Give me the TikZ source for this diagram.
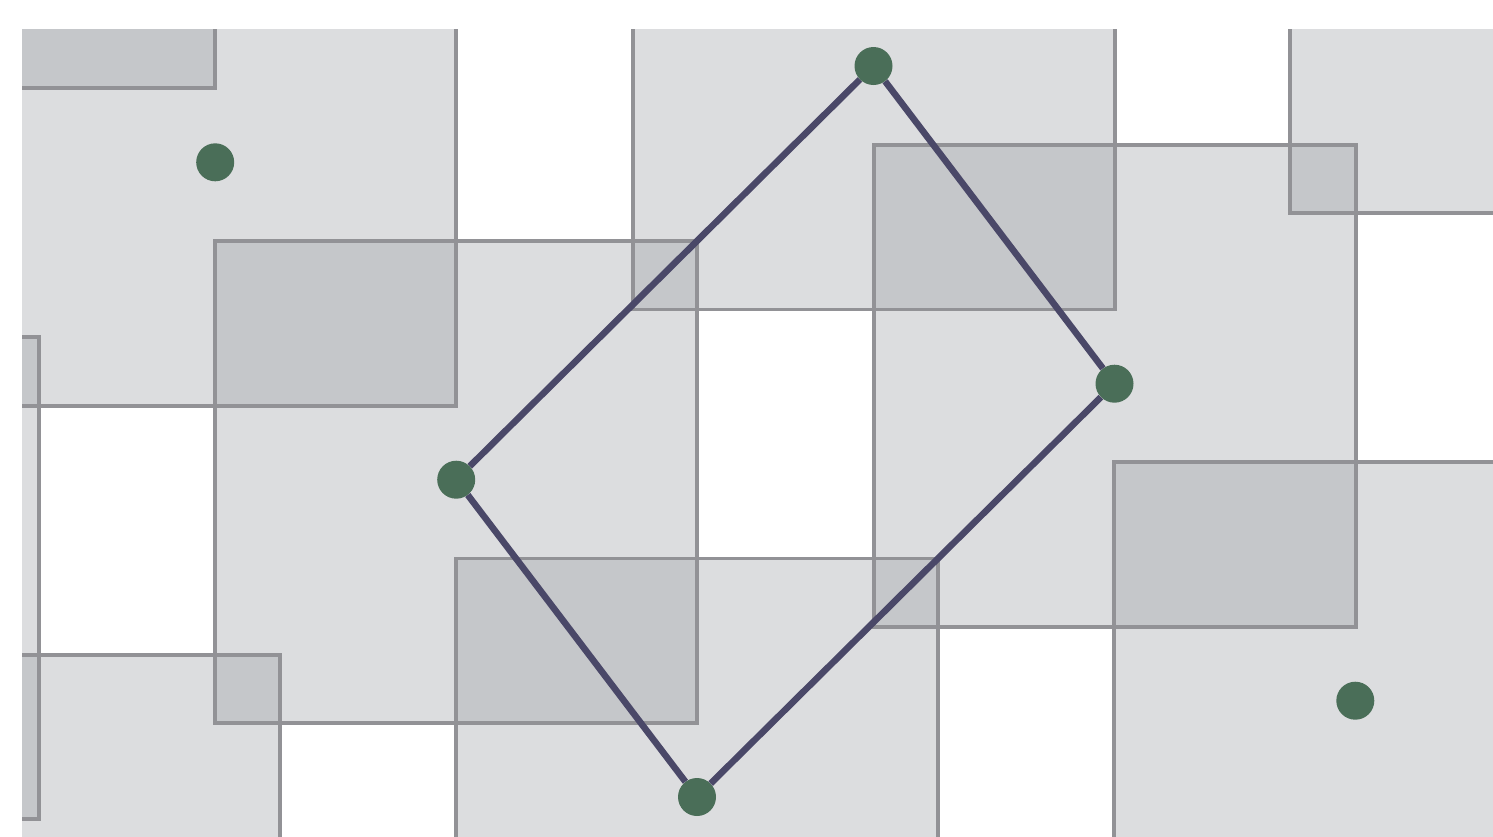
\documentclass[tikz,border=0pt]{standalone}
\definecolor{rectfill}{RGB}{153,155,161}
\definecolor{rectline}{RGB}{146,146,150}
\definecolor{quadline}{RGB}{74,72,104}
\definecolor{dotgreen}{RGB}{74,110,88}
\tikzset{
  tilefill/.style={fill=rectfill, fill opacity=0.34},
  tileline/.style={draw=rectline, line width=3.8pt},
  quadedge/.style={draw=quadline, line width=6.5pt},
  vertexdot/.style={circle, fill=dotgreen, minimum size=38pt, inner sep=0pt}
}
\begin{document}
\begin{tikzpicture}[x=1pt,y=-1pt]
\useasboundingbox (0,0) rectangle (1493,836);
\begin{scope}
\clip (22,29) rectangle (1493,836);
\foreach \cx/\cy in {-25.8/-152.9, 215.2/164.8, 456.2/482.2, 697/799.5, 873.7/68.4, 1114.7/386.1, 1355.3/703.2, -202.3/578.3, 38.7/896, 1531.2/-27.7}
  \path[tilefill] ({\cx-241},{\cy-241}) rectangle ({\cx+241},{\cy+241});
\foreach \cx/\cy in {-25.8/-152.9, 215.2/164.8, 456.2/482.2, 697/799.5, 873.7/68.4, 1114.7/386.1, 1355.3/703.2, -202.3/578.3, 38.7/896, 1531.2/-27.7}
  \path[tileline] ({\cx-241},{\cy-241}) rectangle ({\cx+241},{\cy+241});
\end{scope}
\node[vertexdot] (top) at (873.5,66) {};
\node[vertexdot] (right) at (1114.5,383.7) {};
\node[vertexdot] (bottom) at (697,797) {};
\node[vertexdot] (left) at (456.2,479.7) {};
\node[vertexdot] (tl) at (215.2,162.3) {};
\node[vertexdot] (br) at (1355.3,700.7) {};
\draw[quadedge] (top) -- (right);
\draw[quadedge] (right) -- (bottom);
\draw[quadedge] (bottom) -- (left);
\draw[quadedge] (left) -- (top);
\end{tikzpicture}
\end{document}
